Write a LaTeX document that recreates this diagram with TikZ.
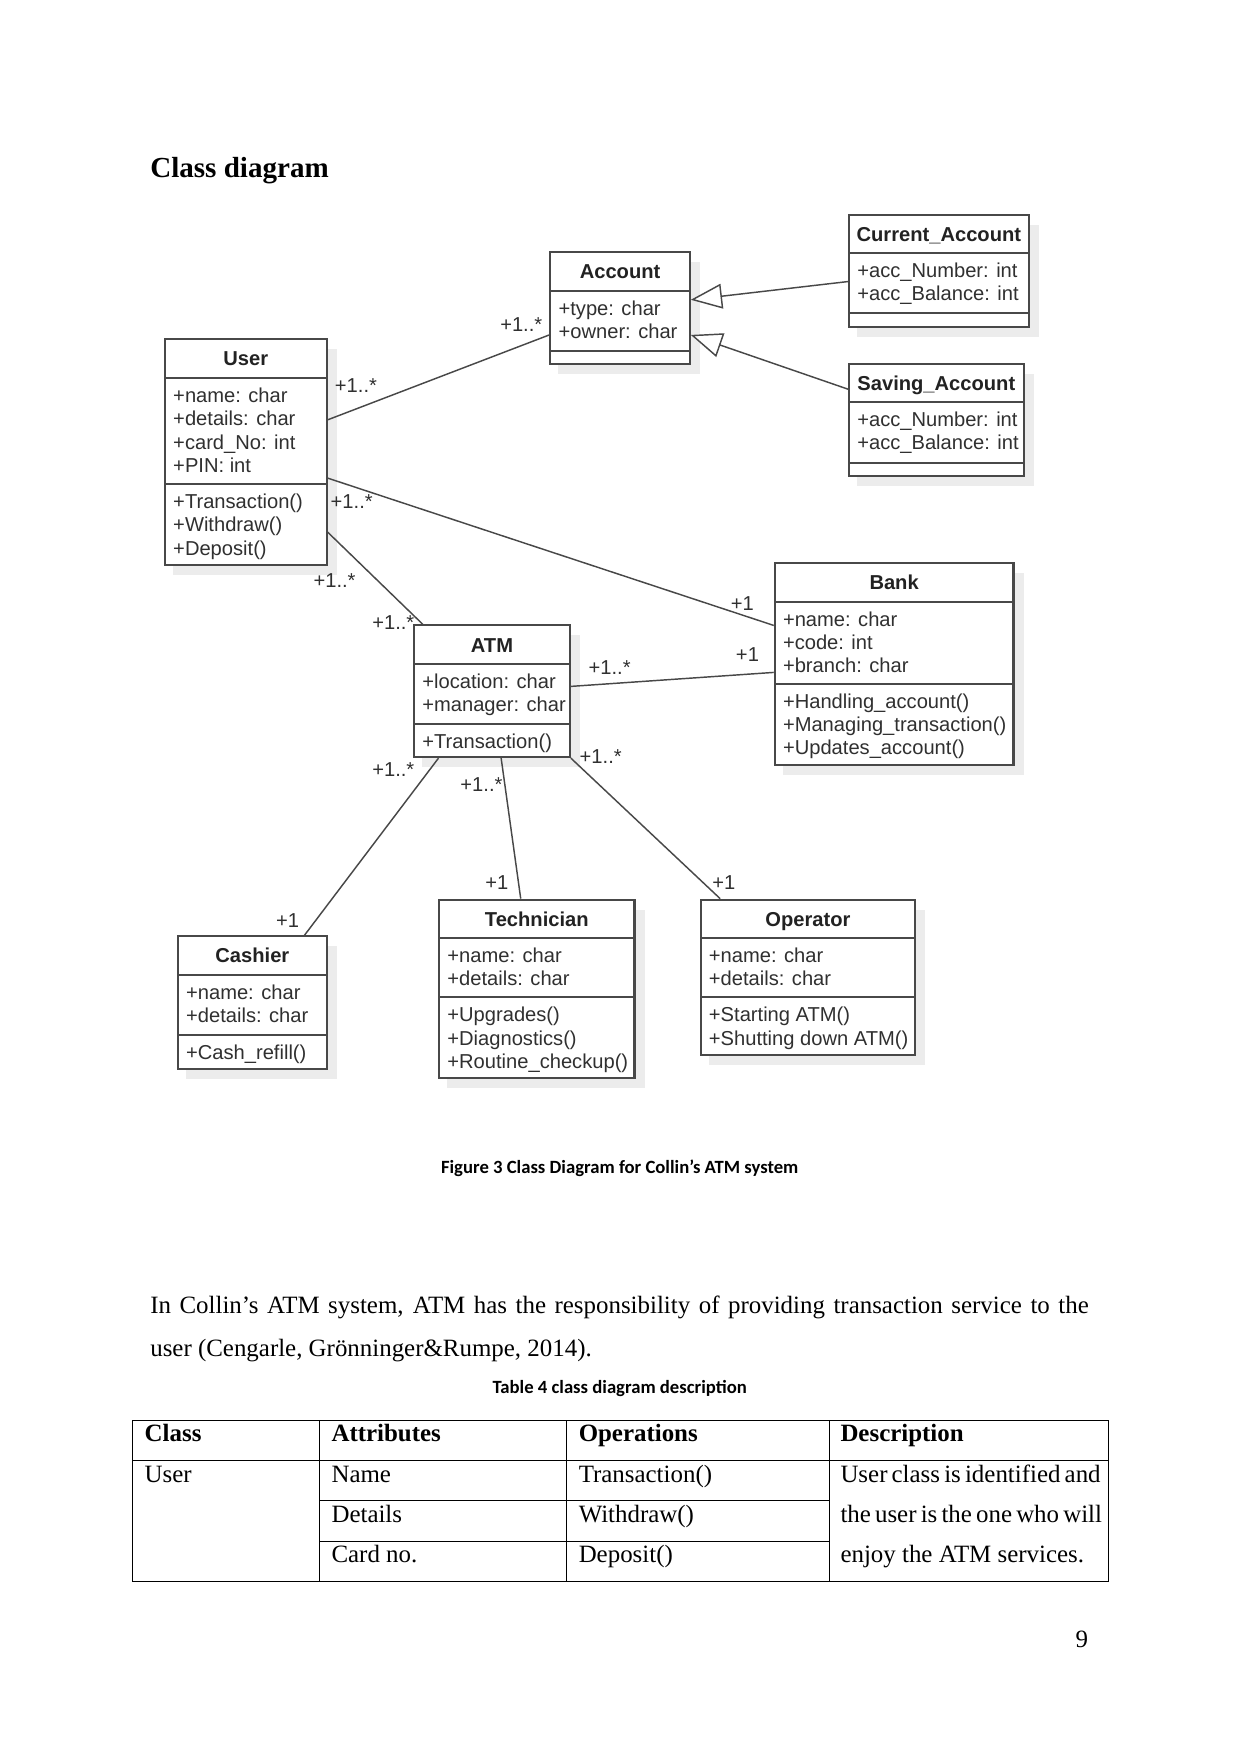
\documentclass[tikz,border=0pt]{standalone}
\usepackage{fontspec}
\setmainfont{Liberation Serif}
\setsansfont{Liberation Sans}
\newfontfamily\capfont{Carlito}
\usepackage{tikz}
\usetikzlibrary{arrows.meta,calc,fit}

\definecolor{umlLine}{RGB}{72,72,72}
\definecolor{umlText}{RGB}{48,48,48}
\definecolor{umlShade}{RGB}{236,236,236}

% class box: name, left, top, right, bottom, title rule, operation rule, title
\newcommand{\umlbox}[8]{%
  \fill[umlShade] ({#2+7},{#3+9}) rectangle ({#4+9},{#5+9});
  \node[umlframe, fit={(#2,#3)(#4,#5)}] (#1) {};
  \draw[umlrule] (#2,#6) -- (#4,#6);
  \draw[umlrule] (#2,#7) -- (#4,#7);
  \node[umltitle] (#1t) at ({(#2+#4)/2},{(#3+#6)/2}) {#8};
}
% rows of a compartment: prefix, left, rule, lines
\newcommand{\umlrows}[4]{%
  \foreach \r [count=\i] in {#4}
    \node[umlrow] (#1\i) at ({#2+7},{#3+21.8+(\i-1)*20.8}) {\r};
}

\begin{document}
\begin{tikzpicture}[
    x=0.189358mm, y=-0.189358mm,
    umlframe/.style={draw=umlLine, line width=1pt, fill=white, inner sep=0pt},
    umlrule/.style={draw=umlLine, line width=1pt},
    umltitle/.style={font=\sffamily\bfseries\fontsize{9.7}{11}\selectfont,
      text=umlText!70!black, inner sep=0pt, text height=7pt, text depth=0pt},
    umlrow/.style={font=\sffamily\fontsize{9.7}{11}\selectfont, text=umlText,
      inner sep=0pt, anchor=base west},
    mult/.style={font=\sffamily\fontsize{9.7}{11}\selectfont, text=umlText, inner sep=0pt},
    assoc/.style={draw=umlLine, line width=0.7pt},
    gen/.style={assoc, -{Triangle[length=5.3mm, width=4.2mm, fill=white]}},
    pagetext/.style={inner sep=0pt, anchor=base west, font=\fontsize{12}{14}\selectfont},
    captext/.style={inner sep=0pt, anchor=base, font=\capfont\bfseries\fontsize{9}{11}\selectfont},
    tabrule/.style={draw=black, line width=0.5pt}
  ]
  \fill[white] (0,0) rectangle (1109,1568);
  \useasboundingbox (0,0) rectangle (1109,1568);

  \node[pagetext, font=\bfseries\fontsize{14}{16}\selectfont] (heading) at (134,159) {Class diagram};

  % classes
  \umlbox{user}{147.5}{303.2}{292}{505}{338}{432.8}{User}
  \umlrows{usera}{147.5}{338}{+name: char, +details: char, +card\_No: int, +PIN: int}
  \umlrows{usero}{147.5}{432.8}{+Transaction(), +Withdraw(), +Deposit()}

  \umlbox{account}{492}{225.5}{616.6}{325.3}{259.8}{313.4}{Account}
  \umlrows{accounta}{492}{259.8}{+type: char, +owner: char}

  \umlbox{current}{759}{192.1}{919.6}{292}{226.4}{280}{Current\_Account}
  \umlrows{currenta}{759}{226.4}{+acc\_Number: int, +acc\_Balance: int}

  \umlbox{saving}{759}{325.6}{915.1}{425.4}{359.5}{413.5}{Saving\_Account}
  \umlrows{savinga}{759}{359.5}{+acc\_Number: int, +acc\_Balance: int}

  \umlbox{bank}{692.6}{503.4}{906}{684}{538}{611.3}{Bank}
  \umlrows{banka}{692.6}{538}{+name: char, +code: int, +branch: char}
  \umlrows{banko}{692.6}{611.3}{+Handling\_account(), +Managing\_transaction(), +Updates\_account()}

  \umlbox{atm}{370.2}{559.1}{509.4}{676.8}{593.7}{647}{ATM}
  \umlrows{atma}{370.2}{593.7}{+location: char, +manager: char}
  \umlrows{atmo}{370.2}{647}{+Transaction()}

  \umlbox{cashier}{159}{837}{292.2}{955.6}{871.3}{925}{Cashier}
  \umlrows{cashiera}{159}{871.3}{+name: char, +details: char}
  \umlrows{cashiero}{159}{925}{+Cash\_refill()}

  \umlbox{tech}{392.6}{804.3}{567.2}{963.6}{838.5}{891.6}{Technician}
  \umlrows{techa}{392.6}{838.5}{+name: char, +details: char}
  \umlrows{techo}{392.6}{891.6}{+Upgrades(), +Diagnostics(), +Routine\_checkup()}

  \umlbox{oper}{626.4}{804.3}{818}{942.8}{838.5}{891.6}{Operator}
  \umlrows{opera}{626.4}{838.5}{+name: char, +details: char}
  \umlrows{opero}{626.4}{891.6}{+Starting ATM(), +Shutting down ATM()}

  % associations
  \draw[assoc] (user.east |- 0,375.3) -- (account.west |- 0,299.4);
  \draw[assoc] (user.east |- 0,427.4) -- (bank.west |- 0,559.1);
  \draw[assoc] (user.east |- 0,475.7) -- (atm.north -| 378,0);
  \draw[assoc] (atm.east |- 0,613.6) -- (bank.west |- 0,601.1);
  \draw[assoc] (atm.south -| 392,0) -- (cashier.north -| 272.2,0);
  \draw[assoc] (atm.south -| 448,0) -- (tech.north -| 465.5,0);
  \draw[assoc] (atm.south east) -- (oper.north -| 643.8,0);

  % generalisations
  \draw[gen] (current.west |- 0,251.7) -- (account.east |- 0,268);
  \draw[gen] (saving.west |- 0,347.9) -- (account.east |- 0,299.4);

  % multiplicities
  \node[mult] (m1) at (318.2,345) {+1..*};
  \node[mult] (m2) at (466,290) {+1..*};
  \node[mult] (m3) at (314.4,448.5) {+1..*};
  \node[mult] (m4) at (663.7,540) {+1};
  \node[mult] (m5) at (299.1,518.7) {+1..*};
  \node[mult] (m6) at (351.6,556.5) {+1..*};
  \node[mult] (m7) at (545,596.8) {+1..*};
  \node[mult] (m8) at (668.2,585.4) {+1};
  \node[mult] (m9) at (351.6,687.6) {+1..*};
  \node[mult] (m10) at (257.2,822.5) {+1};
  \node[mult] (m11) at (430.4,701) {+1..*};
  \node[mult] (m12) at (444.1,788.9) {+1};
  \node[mult] (m13) at (537,676.6) {+1..*};
  \node[mult] (m14) at (647,788.9) {+1};

  \node[captext] (figcap) at (554,1049) {Figure 3 Class Diagram for Collin’s ATM system};

  \node[pagetext] (para1) at (134,1174) {\makebox[158.87mm][s]{In Collin’s ATM system, ATM has the responsibility of providing transaction service to the}};
  \node[pagetext] (para2) at (134,1213) {user (Cengarle, Grönninger\&Rumpe, 2014).};

  \node[captext] (tabcap) at (554,1246) {Table 4 class diagram description};

  % table
  \draw[tabrule] (118.7,1269.6) rectangle (990.6,1414);
  \draw[tabrule] (118.7,1305.3) -- (990.6,1305.3);
  \foreach \x in {285.6,506.2,741.5}
    \draw[tabrule] (\x,1269.6) -- (\x,1414);
  \foreach \y in {1341.7,1377.7}
    \draw[tabrule] (285.6,\y) -- (741.5,\y);

  \node[pagetext, font=\bfseries\fontsize{12}{14}\selectfont] (hclass) at (129,1289) {Class};
  \node[pagetext, font=\bfseries\fontsize{12}{14}\selectfont] (hattr) at (296,1289) {Attributes};
  \node[pagetext, font=\bfseries\fontsize{12}{14}\selectfont] (hops) at (517,1289) {Operations};
  \node[pagetext, font=\bfseries\fontsize{12}{14}\selectfont] (hdesc) at (751,1289) {Description};

  \node[pagetext] (cuser) at (129,1325) {User};
  \node[pagetext] (aname) at (296,1325) {Name};
  \node[pagetext] (adetails) at (296,1361) {Details};
  \node[pagetext] (acard) at (296,1397) {Card no.};
  \node[pagetext] (otrans) at (517,1325) {Transaction()};
  \node[pagetext] (owith) at (517,1361) {Withdraw()};
  \node[pagetext] (odep) at (517,1397) {Deposit()};
  \node[pagetext] (desc1) at (751,1325) {\makebox[43.17mm][s]{User class is identified and}};
  \node[pagetext] (desc2) at (751,1361) {\makebox[43.17mm][s]{the user is the one who will}};
  \node[pagetext] (desc3) at (751,1397) {enjoy the ATM services.};

  \node[pagetext, anchor=base east] (pageno) at (973,1473) {9};
\end{tikzpicture}
\end{document}
